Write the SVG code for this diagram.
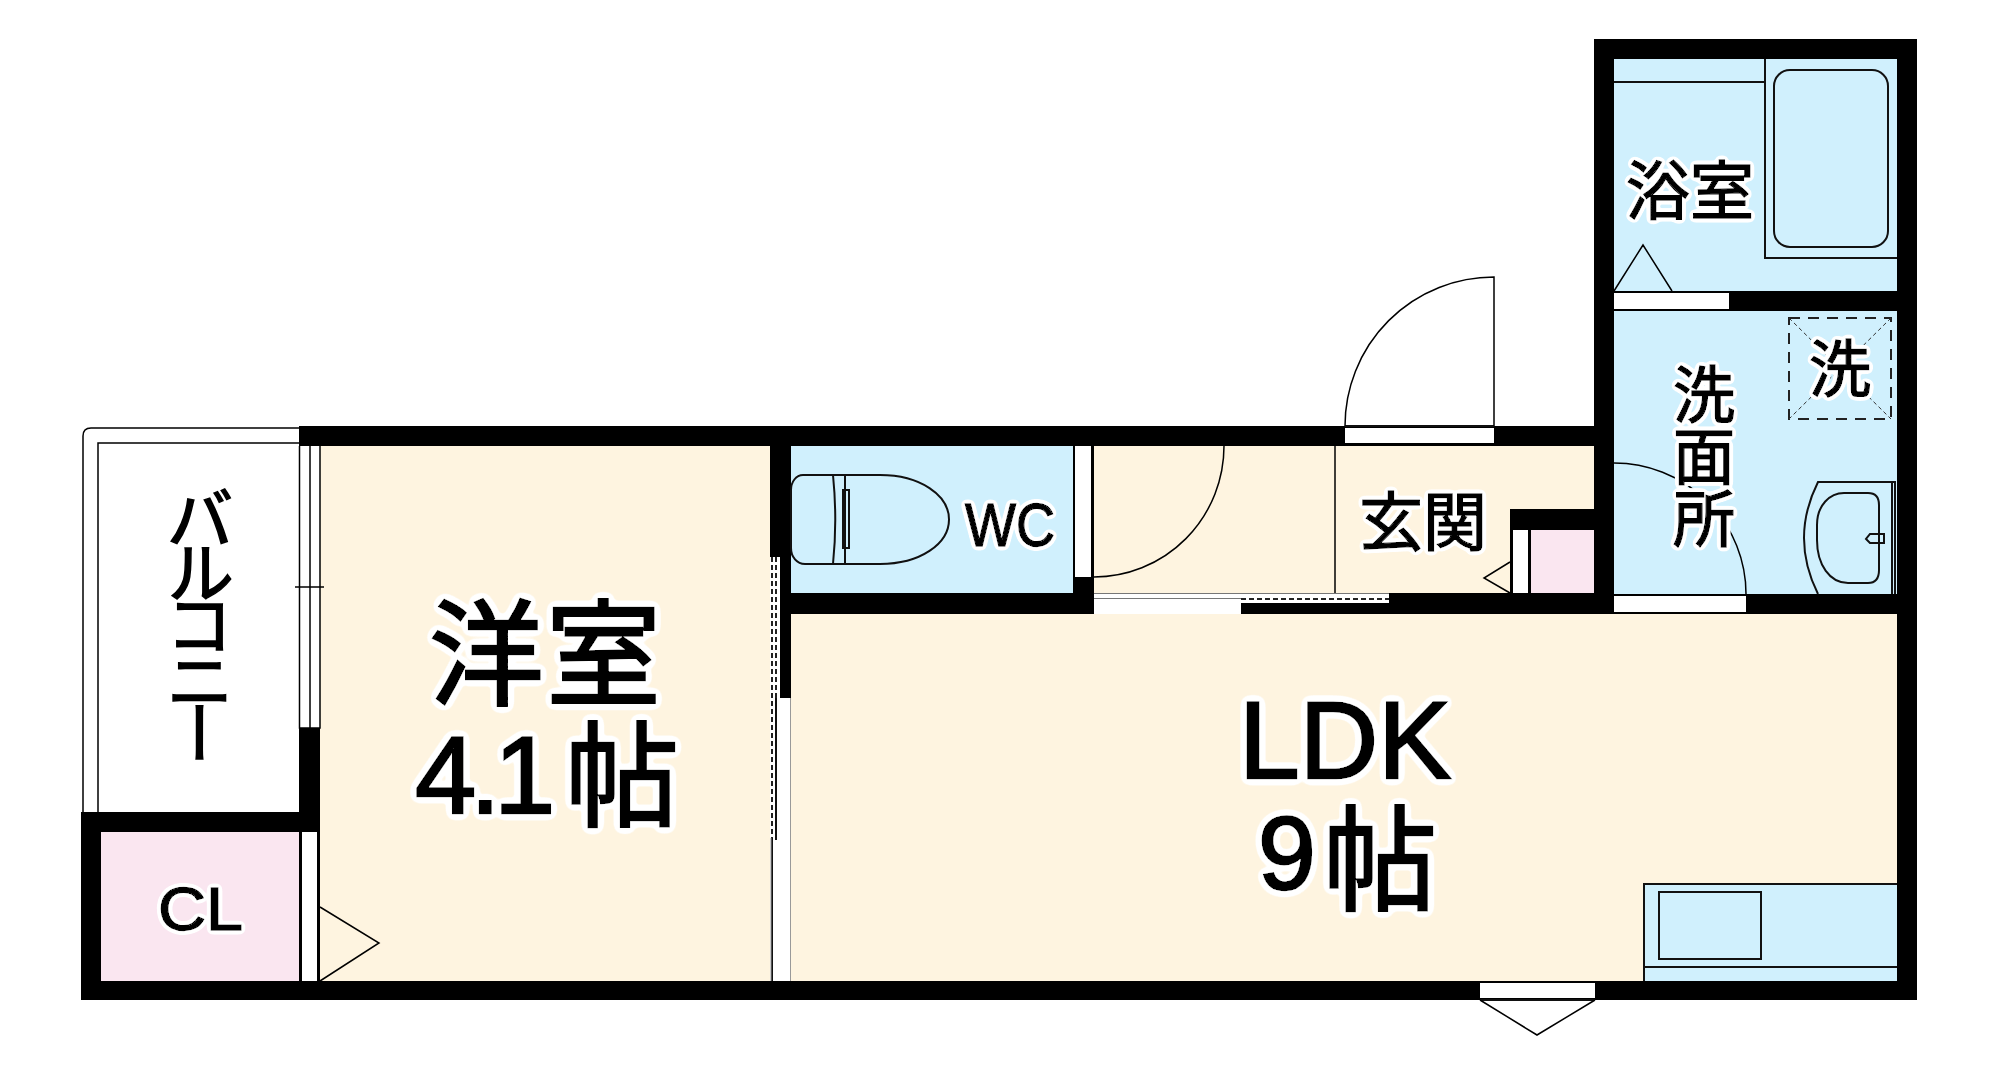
<svg xmlns="http://www.w3.org/2000/svg" width="1998" height="1085" viewBox="0 0 1998 1085">
<defs>
<filter id="halo-l" x="-20%" y="-20%" width="140%" height="140%"><feGaussianBlur in="SourceAlpha" stdDeviation="3.500" result="a"/><feComponentTransfer in="a" result="b"><feFuncA type="linear" slope="30" intercept="-0.6"/></feComponentTransfer><feFlood flood-color="#fff"/><feComposite in2="b" operator="in"/><feMerge><feMergeNode/><feMergeNode in="SourceGraphic"/></feMerge></filter>
<filter id="halo-s" x="-20%" y="-20%" width="140%" height="140%"><feGaussianBlur in="SourceAlpha" stdDeviation="2" result="a"/><feComponentTransfer in="a" result="b"><feFuncA type="linear" slope="30" intercept="-0.6"/></feComponentTransfer><feFlood flood-color="#fff"/><feComposite in2="b" operator="in"/><feMerge><feMergeNode/><feMergeNode in="SourceGraphic"/></feMerge></filter>
</defs>
<style>
.w{fill:#000}.o{fill:#fff}.b{fill:#d0f0fd}.y{fill:#fef4e0}.p{fill:#fae6f0}
.l{fill:none;stroke:#000;stroke-width:1.500}
.m{fill:none;stroke:#111;stroke-width:2}
.d{fill:none;stroke:#222;stroke-width:2;stroke-dasharray:5 3}
.t{font-family:"Noto Sans CJK JP",sans-serif;fill:#000;stroke:#000}
.e{font-family:"Liberation Sans",Arial,sans-serif;fill:#000;stroke:#000}
.big{stroke-width:2.500;filter:url(#halo-l)}
.sm{stroke-width:1.500;filter:url(#halo-s)}
.v{writing-mode:vertical-rl}
</style>
<rect class="o" width="1998" height="1085"/>
<g id="room-yoshitsu"><rect class="y" x="320" y="446" width="450" height="535"/></g>
<g id="room-ldk"><rect class="y" x="791" y="614" width="1106" height="367"/></g>
<g id="room-genkan"><rect class="y" x="1094" y="446" width="500" height="147"/><path class="l" d="M1335 446V593"/></g>
<g id="room-wc"><rect class="b" x="791" y="446" width="282" height="147"/></g>
<g id="room-bath"><rect class="b" x="1614" y="59" width="283" height="232"/></g>
<g id="room-wash"><rect class="b" x="1614" y="311" width="283" height="283"/></g>
<g id="room-cl"><rect class="p" x="101" y="832" width="198" height="149"/></g>
<g id="room-shoe"><rect class="p" x="1531" y="530" width="63" height="63"/></g>
<g id="kitchen"><rect class="b" x="1644" y="884" width="253" height="97"/></g>
<g id="walls">
<rect class="w" x="299" y="426" width="1295" height="20"/>
<rect class="w" x="770" y="446" width="21" height="111"/>
<rect class="w" x="780" y="557" width="11" height="141"/>
<rect class="w" x="791" y="593" width="303" height="21"/>
<rect class="w" x="1073" y="577" width="21" height="16"/>
<rect class="w" x="1241" y="603" width="148" height="11"/>
<rect class="w" x="1389" y="593" width="225" height="21"/>
<rect class="w" x="1594" y="39" width="20" height="575"/>
<rect class="w" x="1594" y="39" width="323" height="20"/>
<rect class="w" x="1897" y="39" width="20" height="961"/>
<rect class="w" x="1614" y="291" width="283" height="20"/>
<rect class="w" x="1614" y="594" width="283" height="20"/>
<rect class="w" x="81" y="981" width="1836" height="19"/>
<rect class="w" x="1510" y="509" width="84" height="21"/>
<rect class="w" x="1510" y="530" width="21" height="63"/>
<rect class="w" x="81" y="812" width="239" height="20"/>
<rect class="w" x="81" y="812" width="20" height="188"/>
<rect class="w" x="299" y="728" width="21" height="84"/>
<rect class="w" x="299" y="832" width="21" height="149"/>
</g>
<g id="openings">
<rect class="o" x="1513" y="530" width="15" height="63"/>
<rect class="o" x="302" y="832" width="15" height="149"/>
<rect class="w" x="1073" y="446" width="21" height="131"/>
<rect class="o" x="1075" y="446" width="16" height="131"/>
<rect class="o" x="1345" y="428" width="149" height="15"/>
<rect class="o" x="1614" y="293" width="115" height="16"/>
<rect class="o" x="1614" y="596" width="132" height="16"/>
<rect class="o" x="1094" y="599" width="147" height="15"/>
<path d="M1094 593.500H1389M1094 598.500H1241" fill="none" stroke="#777" stroke-width="1"/>
<rect class="o" x="1241" y="594" width="148" height="9"/>
<path class="d" d="M1241 599H1389"/>
<rect class="o" x="770" y="557" width="10" height="141"/>
<rect class="o" x="772" y="698" width="18" height="283"/>
<rect class="o" x="770" y="698" width="2" height="140"/>
<path class="d" d="M772 557V838M776 557V698"/>
<path class="m" d="M776 698V840M772 838V981"/>
<path d="M771 838V981M790.500 698V981" stroke="#999" stroke-width="1" fill="none"/>
<rect class="o" x="1480" y="983" width="115" height="15"/>
<rect class="o" x="299" y="446" width="21" height="282"/>
<path class="l" d="M299.500 446V728H320V446M310 446V728M295 587H324"/>
</g>
<g id="balcony">
<path class="l" d="M83 812V436Q83 428 91 428H299M98 812V443H299"/>
</g>
<g id="fixtures">
<path class="m" d="M1345 426H1494M1480 1000H1595"/>
<path class="l" d="M1345 426A149 149 0 0 1 1494 277V426M1224 446A130 131 0 0 1 1094 577M1614 463A132 131 0 0 1 1746 594"/>
<path class="l" d="M1614 291L1643 245L1672 291M1510 562L1484 578L1510 593M320 907L379 943L320 981M1480 1000L1537 1035L1595 1000"/>
<path class="m" d="M1765 59V258H1897M1614 82H1765"/>
<rect class="m" x="1774" y="70" width="114" height="177" rx="16"/>
<path fill="none" stroke="#222" stroke-width="2" stroke-dasharray="11 8" d="M1789 318H1891V419H1789Z"/>
<path fill="none" stroke="#333" stroke-width="1" stroke-dasharray="4 3" d="M1789 318L1891 419M1891 318L1789 419"/>
<path class="m" d="M1896 482H1818Q1804 510 1804 538T1818 594M1892 482V594M1895 482V594"/>
<path class="m" d="M1844 493H1868Q1879 493 1879 505V570Q1879 583 1868 583H1848C1830 583 1817 565 1817 540V525C1817 505 1830 493 1844 493ZM1884 534H1870L1866 539L1870 543H1884Z"/>
<path class="m" d="M1644 981V884H1897M1644 967H1897"/>
<rect class="m" x="1659" y="892" width="102" height="67"/>
<path class="m" d="M833 475H803C796 475 791 482 791 490V548C791 557 797 564 805 564H833C836 535 836 505 833 475ZM833 475H880C920 475 949 495 949 519.500S920 564 880 564H833M845 475V564M843 490H849V548H843Z"/>
</g>
<g id="labels">
<text class="t big" x="546" y="696" font-size="115" text-anchor="middle" letter-spacing="2">洋室</text>
<text class="e big" x="415 470 494" y="813" font-size="110">4.1</text>
<text class="t big" x="565" y="817" font-size="114">帖</text>
<text class="e big" x="1345" y="778" font-size="109" text-anchor="middle">LDK</text>
<text class="e big" x="1258" y="889" font-size="104">9</text>
<text class="t big" x="1323" y="901" font-size="114">帖</text>
<text class="t sm" x="1690" y="214" font-size="64" text-anchor="middle">浴室</text>
<text class="t sm" x="1840" y="392" font-size="62" text-anchor="middle">洗</text>
<text class="t sm v" x="1704" y="363" font-size="62">洗面所</text>
<text class="t sm" x="1423" y="545" font-size="64" text-anchor="middle">玄関</text>
<text class="e sm" x="965" y="546" font-size="62" textLength="90" lengthAdjust="spacingAndGlyphs">WC</text>
<text class="e sm" x="158" y="930" font-size="62" textLength="85" lengthAdjust="spacingAndGlyphs">CL</text>
<text class="t v" x="200" y="484 538 590 646 699" font-size="68" stroke-width="1.500">バルコニー</text>
</g>
</svg>
